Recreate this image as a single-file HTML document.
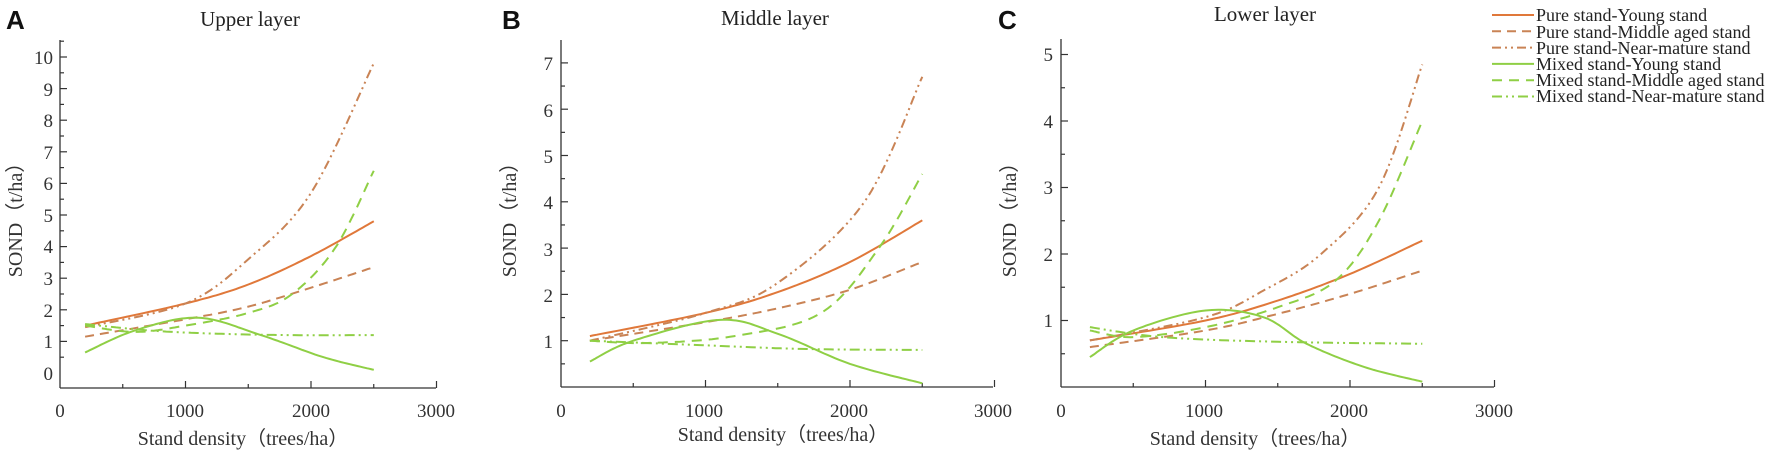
<!DOCTYPE html>
<html><head><meta charset="utf-8"><style>
body{margin:0;background:#fff;}
svg{display:block;font-family:"Liberation Serif",serif;}
</style></head><body>
<svg id="s" width="1772" height="455" viewBox="0 0 1772 455" xmlns="http://www.w3.org/2000/svg">
<g font-family="Liberation Sans,sans-serif" font-weight="bold" font-size="26" fill="#111">
<text x="6" y="29">A</text><text x="502" y="29">B</text><text x="998" y="29">C</text></g>
<g font-size="21" fill="#222" text-anchor="middle">
<text x="250" y="26">Upper layer</text><text x="775" y="25">Middle layer</text><text x="1265" y="21">Lower layer</text></g>
<g font-size="20" fill="#333" text-anchor="middle">
<text x="243" y="445">Stand density（trees/ha）</text>
<text x="783" y="441">Stand density（trees/ha）</text>
<text x="1255" y="445">Stand density（trees/ha）</text>
<text transform="translate(22,215) rotate(-90)">SOND（t/ha）</text>
<text transform="translate(516,215) rotate(-90)">SOND（t/ha）</text>
<text transform="translate(1016,215) rotate(-90)">SOND（t/ha）</text>
</g>
<g font-size="19" fill="#333">
<g text-anchor="middle">
<text x="60" y="417">0</text><text x="185" y="417">1000</text><text x="311" y="417">2000</text><text x="436" y="417">3000</text>
<text x="561" y="417">0</text><text x="704" y="417">1000</text><text x="849" y="417">2000</text><text x="993" y="417">3000</text>
<text x="1061" y="417">0</text><text x="1204" y="417">1000</text><text x="1349" y="417">2000</text><text x="1494" y="417">3000</text>
</g>
<g text-anchor="end">
<text x="53" y="380">0</text><text x="53" y="348">1</text><text x="53" y="317">2</text><text x="53" y="285">3</text><text x="53" y="253">4</text><text x="53" y="222">5</text><text x="53" y="190">6</text><text x="53" y="159">7</text><text x="53" y="127">8</text><text x="53" y="96">9</text><text x="53" y="64">10</text>
<text x="553" y="348">1</text><text x="553" y="302">2</text><text x="553" y="256">3</text><text x="553" y="209">4</text><text x="553" y="163">5</text><text x="553" y="117">6</text><text x="553" y="70">7</text>
<text x="1053" y="327">1</text><text x="1053" y="261">2</text><text x="1053" y="194">3</text><text x="1053" y="128">4</text><text x="1053" y="61">5</text>
</g></g>
<g font-size="18" fill="#222">
<text x="1536" y="21">Pure stand-Young stand</text>
<text x="1536" y="38">Pure stand-Middle aged stand</text>
<text x="1536" y="54">Pure stand-Near-mature stand</text>
<text x="1536" y="70">Mixed stand-Young stand</text>
<text x="1536" y="86">Mixed stand-Middle aged stand</text>
<text x="1536" y="102">Mixed stand-Near-mature stand</text>
</g>
<g id="g" fill="none"></g>
</svg>
<script>
var g=document.getElementById('g');
function add(tag,a){var e=document.createElementNS('http://www.w3.org/2000/svg',tag);for(var k in a)e.setAttribute(k,a[k]);g.appendChild(e);return e;}
var OR='#e0783a',BR='#c98355',GR='#8fcf45';
var styles=[{c:OR,d:''},{c:BR,d:'9 6'},{c:BR,d:'9 4 2 4 2 4'},{c:GR,d:''},{c:GR,d:'10 7'},{c:GR,d:'10 4 2 4 2 4'}];
for(var i=0;i<6;i++){var y=15+i*16.3;add('line',{x1:1492,x2:1534,y1:y,y2:y,stroke:styles[i].c,'stroke-width':2,'stroke-dasharray':styles[i].d});}
var panels=[
{x0:60,sx:0.1255,y0:373,sy:31.6,top:40,bot:388,xend:436,ymin:0.5,
 s:[[[200,1.5],[1000,2.2],[1500,2.8],[2000,3.7],[2500,4.8]],
    [[200,1.15],[1000,1.7],[1500,2.1],[2000,2.7],[2500,3.35]],
    [[200,1.45],[1000,2.2],[1500,3.6],[2000,5.7],[2500,9.8]],
    [[200,0.65],[600,1.35],[1100,1.75],[1600,1.2],[2100,0.5],[2500,0.1]],
    [[200,1.5],[600,1.3],[1000,1.5],[1500,1.9],[1850,2.5],[2200,4],[2500,6.4]],
    [[200,1.55],[700,1.35],[1200,1.25],[1800,1.2],[2500,1.2]]]},
{x0:561,sx:0.1445,y0:387,sy:46.3,top:40,bot:387,xend:993,ymin:0.5,
 s:[[[200,1.1],[1000,1.6],[1500,2.05],[2000,2.7],[2500,3.6]],
    [[200,1.0],[1000,1.4],[1500,1.7],[2000,2.1],[2500,2.7]],
    [[200,1.0],[1000,1.6],[1500,2.25],[2100,4.0],[2500,6.7]],
    [[200,0.55],[500,1.0],[1100,1.45],[1500,1.15],[2000,0.5],[2500,0.08]],
    [[200,1.0],[600,0.95],[1200,1.1],[1800,1.6],[2200,3],[2500,4.6]],
    [[200,1.0],[1000,0.9],[1700,0.82],[2500,0.8]]]},
{x0:1061,sx:0.1445,y0:387,sy:66.5,top:39,bot:387,xend:1494,ymin:0.5,
 s:[[[200,0.7],[1000,1.0],[1500,1.3],[2000,1.7],[2500,2.2]],
    [[200,0.6],[1000,0.85],[1500,1.1],[2000,1.4],[2500,1.75]],
    [[200,0.7],[1000,1.05],[1400,1.45],[1800,2.0],[2200,3],[2500,4.85]],
    [[200,0.45],[500,0.85],[1000,1.15],[1400,1.05],[1700,0.65],[2100,0.3],[2500,0.08]],
    [[200,0.85],[500,0.75],[1000,0.9],[1500,1.2],[1900,1.6],[2200,2.5],[2500,4]],
    [[200,0.9],[700,0.75],[1500,0.68],[2500,0.65]]]}];
function spline(p){var r=[];for(var i=0;i<p.length-1;i++){var a=p[Math.max(0,i-1)],b=p[i],c=p[i+1],d=p[Math.min(p.length-1,i+2)];
 for(var t=0;t<1;t+=0.05){var t2=t*t,t3=t2*t;
 var f=function(k){return 0.5*((2*b[k])+(-a[k]+c[k])*t+(2*a[k]-5*b[k]+4*c[k]-d[k])*t2+(-a[k]+3*b[k]-3*c[k]+d[k])*t3)};
 r.push([f(0),f(1)]);}}r.push(p[p.length-1]);return r;}
panels.forEach(function(P){
 add('line',{x1:P.x0,x2:P.x0,y1:P.top,y2:P.bot,stroke:'#333','stroke-width':1.3});
 add('line',{x1:P.x0,x2:P.xend,y1:P.bot,y2:P.bot,stroke:'#333','stroke-width':1.3});
 for(var v=500;v<=3000;v+=500){var x=P.x0+v*P.sx;add('line',{x1:x,x2:x,y1:P.bot,y2:P.bot-(v%1000?4:7),stroke:'#333','stroke-width':1.2});}
 for(var v=P.ymin;P.y0-v*P.sy>P.top;v+=0.5){var y=P.y0-v*P.sy;add('line',{x1:P.x0,x2:P.x0+(v%1?4:7),y1:y,y2:y,stroke:'#333','stroke-width':1.2});}
 P.s.forEach(function(s,i){var pts=spline(s).map(function(q){return (P.x0+q[0]*P.sx).toFixed(1)+','+(P.y0-q[1]*P.sy).toFixed(1)});
  add('polyline',{points:pts.join(' '),stroke:styles[i].c,'stroke-width':2,'stroke-dasharray':styles[i].d});});
});
</script>
</body></html>
